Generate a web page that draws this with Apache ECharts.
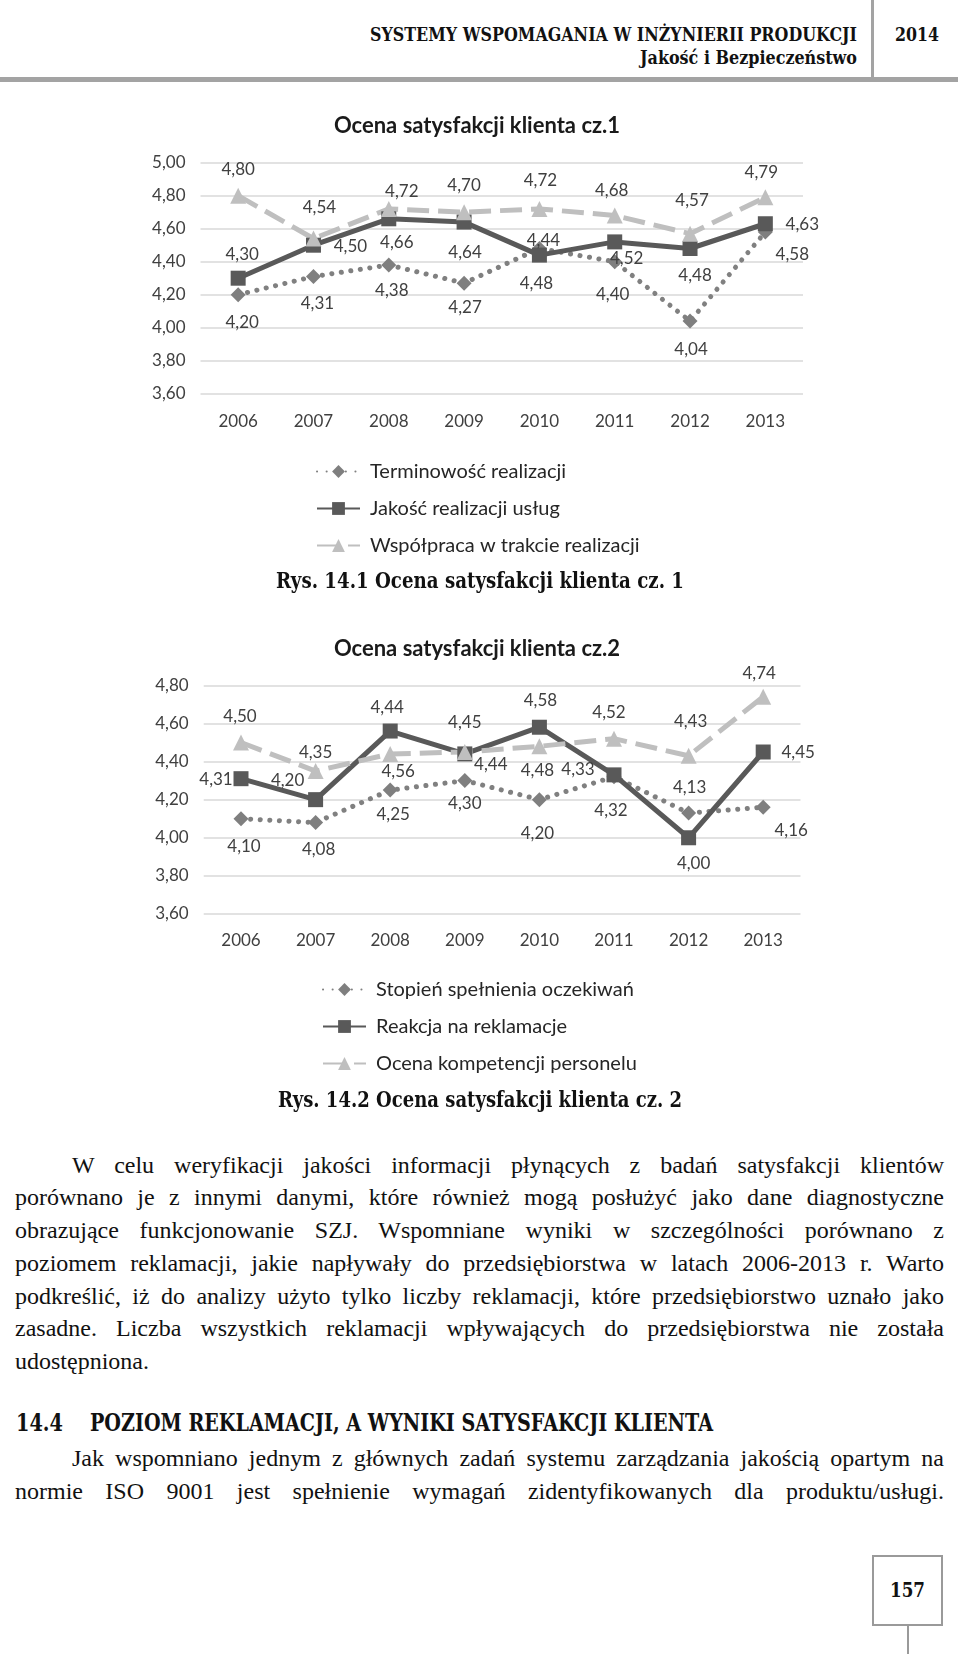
<!DOCTYPE html>
<html><head><meta charset="utf-8">
<script src="https://cdn.jsdelivr.net/npm/echarts@6/dist/echarts.min.js"></script>
<style>
html,body{margin:0;padding:0;background:#fff;}
body{width:960px;height:1654px;position:relative;overflow:hidden;}
.t{position:absolute;white-space:nowrap;transform-origin:0 50%;color:#111;}
.chart{position:absolute;}
.bar{position:absolute;background:#a3a3a3;}
</style></head>
<body>
<div class="bar" style="left:871px;top:0;width:3px;height:78px"></div>
<div class="bar" style="left:0;top:77px;width:958px;height:5px"></div>
<div id="c1" class="chart" style="left:0;top:90px;width:954px;height:480px"></div>
<div id="c2" class="chart" style="left:0;top:610px;width:954px;height:480px"></div>
<div style="position:absolute;left:872px;top:1555px;width:71px;height:71px;border:2px solid #9a9a9a;box-sizing:border-box"></div>
<div class="bar" style="left:907px;top:1626px;width:2px;height:28px;background:#9a9a9a"></div>
<script>
// ---------- data ----------
const years = ['2006','2007','2008','2009','2010','2011','2012','2013'];
const yTicksMin = 3.6, yStep = 0.2, c1Max = 5.0, c2Max = 4.8;

const c1Names = ['Terminowość realizacji','Jakość realizacji usług','Współpraca w trakcie realizacji'];
const c1Terminowosc = [4.20,4.31,4.38,4.27,4.48,4.40,4.04,4.58];
const c1Jakosc      = [4.30,4.50,4.66,4.64,4.44,4.52,4.48,4.63];
const c1Wspolpraca  = [4.80,4.54,4.72,4.70,4.72,4.68,4.57,4.79];

const c2Names = ['Stopień spełnienia oczekiwań','Reakcja na reklamacje','Ocena kompetencji personelu'];
const c2Stopien     = [4.10,4.08,4.25,4.30,4.20,4.32,4.13,4.16];
const c2Reakcja     = [4.31,4.20,4.56,4.44,4.58,4.33,4.00,4.45];
const c2Kompetencje = [4.50,4.35,4.44,4.45,4.48,4.52,4.43,4.74];

// label placement (style only)
const c1OffDia = [[4,28],[4,27],[3,26],[1,24],[-3,35],[-2,33],[1,28],[27,23]];
const c1OffSq  = [[4,-24],[37,1],[8,24],[1,30],[4,-15],[12,17],[5,27],[37,1]];
const c1OffTri = [[0,-26],[6,-31],[13,-17],[0,-27],[1,-28],[-3,-25],[2,-33],[-4,-25]];
const c2OffDia = [[3,28],[3,27],[3,24],[0,23],[-2,34],[-3,34],[1,-25],[28,23]];
const c2OffSq  = [[-25,1],[-28,-19],[8,40],[26,11],[1,-27],[-36,-5],[5,26],[35,1]];
const c2OffTri = [[-1,-26],[0,-19],[-3,-46],[0,-29],[-2,24],[-5,-26],[2,-34],[-4,-23]];

// ---------- charts ----------
const fmt = v => Number(v).toFixed(2).replace('.', ',');
const LBL = {show:true, position:'inside', fontFamily:'Lato', fontSize:17, color:'#404040', formatter:p=>fmt(p.value)};

function series(name, vals, offs, kind){
  const st = {
    dia:{symbol:'diamond', size:15, color:'#7f7f7f', line:{color:'#808080', width:5, type:[0.1,9.5], cap:'round'}},
    sq:{symbol:'rect', size:15, color:'#595959', line:{color:'#595959', width:5, type:'solid'}},
    tri:{symbol:'triangle', size:16, color:'#bfbfbf', line:{color:'#bfbfbf', width:5, type:[22,9], cap:'butt'}}
  }[kind];
  return {
    name, type:'line', symbol:st.symbol, symbolSize:st.size, showAllSymbol:true,
    itemStyle:{color:st.color}, lineStyle:st.line, label:LBL,
    data: vals.map((v,i)=>({value:v, label:{offset:offs[i]}}))
  };
}

function option(c){
  return {
    animation:false,
    title:{text:c.title, left:'center', top:c.titleTop, padding:0,
      textStyle:{fontFamily:'Lato', fontWeight:'bold', fontSize:22, color:'#1a1a1a'}},
    legend:{orient:'vertical', left:c.legLeft, top:c.legTop, padding:0, itemWidth:43, itemHeight:16, itemGap:15,
      textStyle:{fontFamily:'Lato', fontSize:20, color:'#262626', lineHeight:22, padding:[0,0,0,5]}, data:c.names},
    grid:{left:c.gl, top:c.gt, width:c.gw, height:c.gh},
    xAxis:{type:'category', data:years, boundaryGap:true, axisLine:{show:false}, axisTick:{show:false},
      axisLabel:{margin:c.xm, fontFamily:'Lato', fontSize:17, color:'#404040'}},
    yAxis:{type:'value', min:yTicksMin, max:c.max, interval:yStep, axisLine:{show:false}, axisTick:{show:false},
      splitLine:{lineStyle:{color:'#d9d9d9', width:1.5}},
      axisLabel:{margin:15, fontFamily:'Lato', fontSize:17, color:'#404040', formatter:v=>fmt(v)}},
    series:c.series
  };
}

echarts.init(document.getElementById('c1')).setOption(option({
  title:'Ocena satysfakcji klienta cz.1', titleTop:25, names:c1Names, legLeft:316, legTop:370.5,
  gl:200.5, gt:72.7, gw:602.5, gh:231, xm:19.5, max:c1Max,
  series:[series(c1Names[0],c1Terminowosc,c1OffDia,'dia'), series(c1Names[1],c1Jakosc,c1OffSq,'sq'), series(c1Names[2],c1Wspolpraca,c1OffTri,'tri')]
}));
echarts.init(document.getElementById('c2')).setOption(option({
  title:'Ocena satysfakcji klienta cz.2', titleTop:28, names:c2Names, legLeft:322, legTop:368.5,
  gl:203.7, gt:75.3, gw:596.8, gh:228.7, xm:18.5, max:c2Max,
  series:[series(c2Names[0],c2Stopien,c2OffDia,'dia'), series(c2Names[1],c2Reakcja,c2OffSq,'sq'), series(c2Names[2],c2Kompetencje,c2OffTri,'tri')]
}));

// ---------- page text ----------
const HB = "bold 19px 'DejaVu Serif'";
const CB = "bold 22px 'DejaVu Serif'";
const P = "24px 'Liberation Serif'";
const texts = [
  ['SYSTEMY WSPOMAGANIA W INŻYNIERII PRODUKCJI', 370, 487, 34, HB, 'fit'],
  ['2014', 895, 44, 34, HB, 'fit'],
  ['Jakość i Bezpieczeństwo', 640, 217, 57, HB, 'fit'],
  ['Rys. 14.1 Ocena satysfakcji klienta cz. 1', 276, 408, 580, CB, 'fit'],
  ['Rys. 14.2 Ocena satysfakcji klienta cz. 2', 278, 404, 1099, CB, 'fit'],
  ['W celu weryfikacji jakości informacji płynących z badań satysfakcji klientów', 72, 872, 1164.6, P, 'just'],
  ['porównano je z innymi danymi, które również mogą posłużyć jako dane diagnostyczne', 15, 929, 1197.4, P, 'just'],
  ['obrazujące funkcjonowanie SZJ. Wspomniane wyniki w szczególności porównano z', 15, 929, 1230, P, 'just'],
  ['poziomem reklamacji, jakie napływały do przedsiębiorstwa w latach 2006-2013 r. Warto', 15, 929, 1262.8, P, 'just'],
  ['podkreślić, iż do analizy użyto tylko liczby reklamacji, które przedsiębiorstwo uznało jako', 15, 929, 1295.5, P, 'just'],
  ['zasadne. Liczba wszystkich reklamacji wpływających do przedsiębiorstwa nie została', 15, 929, 1328, P, 'just'],
  ['udostępniona.', 15, 0, 1361, P, 'left'],
  ['14.4', 16, 47, 1423, "bold 24px 'DejaVu Serif'", 'fit'],
  ['POZIOM REKLAMACJI, A WYNIKI SATYSFAKCJI KLIENTA', 90, 623, 1423, "bold 24px 'DejaVu Serif'", 'fit'],
  ['Jak wspomniano jednym z głównych zadań systemu zarządzania jakością opartym na', 72, 872, 1458, P, 'just'],
  ['normie ISO 9001 jest spełnienie wymagań zidentyfikowanych dla produktu/usługi.', 15, 929, 1490.6, P, 'just'],
  ['157', 890, 35, 1590, "bold 20px 'DejaVu Serif'", 'fit']
];
const LH = 30;
texts.forEach(([s,x,w,cy,font,mode])=>{
  const el = document.createElement('div');
  el.className = 't';
  el.textContent = s;
  el.style.font = font;
  el.style.lineHeight = LH + 'px';
  el.style.left = x + 'px';
  el.style.top = (cy - LH/2) + 'px';
  el.style.display = 'inline-block';
  document.body.appendChild(el);
  const nat = el.getBoundingClientRect().width;
  if (mode === 'fit') {
    el.style.transform = 'scaleX(' + (w/nat) + ')';
  } else if (mode === 'just') {
    const sp = (s.match(/ /g)||[]).length;
    if (nat < w && sp) el.style.wordSpacing = ((w-nat)/sp) + 'px';
    else el.style.transform = 'scaleX(' + (w/nat) + ')';
  }
});
</script>
</body></html>
